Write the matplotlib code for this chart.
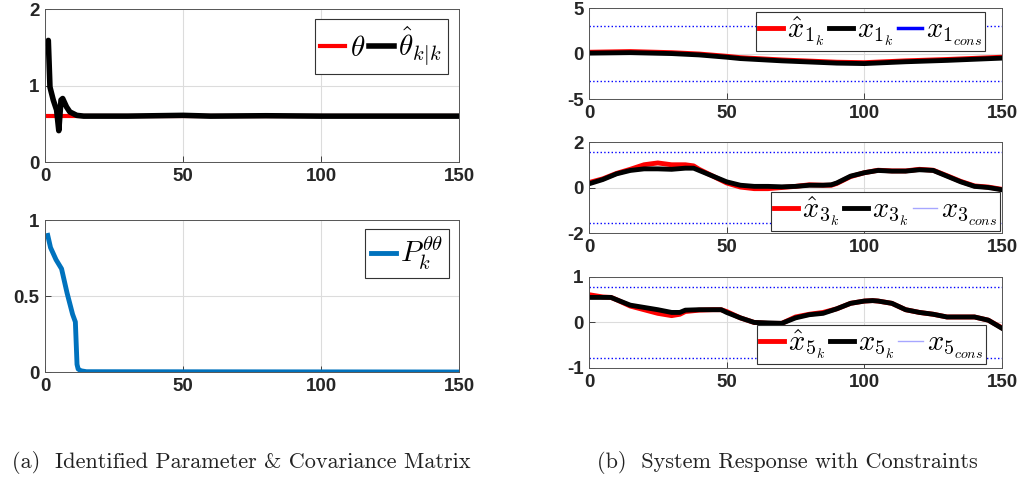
"""Identified parameter, covariance and constrained system response (two-panel figure)."""

import matplotlib.pyplot as plt

plt.rcParams["mathtext.fontset"] = "cm"
plt.rcParams["font.family"] = ["Liberation Sans", "DejaVu Sans"]

# --- data ------------------------------------------------------------------
theta_k = [1, 150]
theta = [0.6, 0.6]

theta_hat_k = [1, 1.2, 1.8, 3, 4.2, 5, 5.8, 6.4, 7.8, 9, 11.5, 14, 30, 50, 60, 80, 100, 120, 150]
theta_hat = [1.55, 1.59, 0.98, 0.81, 0.68, 0.41, 0.81, 0.83, 0.72, 0.655, 0.61, 0.6,
             0.6, 0.61, 0.6, 0.605, 0.6, 0.6, 0.6]

p_k = [1, 2, 3, 4, 5, 6, 7, 8, 9, 10, 11, 11.6, 12, 13, 15, 150]
p_tt = [0.9, 0.82, 0.78, 0.74, 0.71, 0.68, 0.6, 0.52, 0.45, 0.38, 0.33, 0.05, 0.02, 0.008, 0.002, 0.0]

x1_k = [1, 15, 30, 40, 50, 55, 70, 90, 100, 115, 130, 150]
x1 = [0.05, 0.1, 0.0, -0.15, -0.4, -0.55, -0.8, -1.05, -1.1, -0.9, -0.75, -0.5]
x1_hat = [0.15, 0.22, 0.1, -0.05, -0.3, -0.45, -0.7, -0.95, -1.0, -0.8, -0.65, -0.4]
x1_cons = 3.0

x3_k = [1, 5, 10, 15, 20, 25, 30, 35, 38, 40, 45, 50, 55, 60, 65, 70, 75, 80, 85, 88,
        90, 95, 100, 105, 110, 115, 120, 125, 130, 135, 140, 145, 150]
x3 = [0.2, 0.35, 0.6, 0.75, 0.82, 0.82, 0.8, 0.85, 0.85, 0.75, 0.5, 0.25, 0.1, 0.05,
      0.05, 0.03, 0.05, 0.1, 0.1, 0.12, 0.2, 0.5, 0.65, 0.75, 0.72, 0.72, 0.78, 0.75,
      0.5, 0.25, 0.05, 0.0, -0.1]
x3_hat = [0.25, 0.38, 0.62, 0.8, 1.0, 1.08, 1.0, 1.0, 0.95, 0.8, 0.5, 0.2, 0.02, -0.05,
          -0.05, 0.0, 0.05, 0.12, 0.1, 0.1, 0.18, 0.48, 0.65, 0.76, 0.73, 0.73, 0.8, 0.76,
          0.52, 0.27, 0.07, 0.02, -0.08]
x3_cons = 1.57

x5_k = [1, 5, 8, 10, 15, 20, 25, 30, 33, 35, 40, 45, 48, 50, 55, 60, 65, 70, 75, 80,
        85, 90, 95, 100, 103, 105, 110, 115, 120, 125, 130, 135, 140, 145, 150]
x5 = [0.55, 0.55, 0.55, 0.5, 0.38, 0.33, 0.28, 0.22, 0.22, 0.27, 0.28, 0.28, 0.28, 0.22,
      0.1, 0.0, -0.01, -0.02, 0.1, 0.17, 0.2, 0.3, 0.42, 0.47, 0.48, 0.47, 0.42, 0.28,
      0.22, 0.18, 0.12, 0.12, 0.12, 0.05, -0.13]
x5_hat = [0.6, 0.56, 0.55, 0.5, 0.36, 0.28, 0.2, 0.15, 0.18, 0.24, 0.27, 0.28, 0.28, 0.24,
          0.1, 0.0, -0.02, -0.02, 0.12, 0.18, 0.22, 0.3, 0.42, 0.47, 0.48, 0.47, 0.42, 0.28,
          0.22, 0.18, 0.12, 0.12, 0.12, 0.05, -0.12]
x5_cons = 0.78

x_ticks = [0, 50, 100, 150]

TXT = "#262626"
BLUE_P = "#0072BD"


def style(ax, yticks, ylabels):
    ax.set_xlim(0, 150)
    ax.set_ylim(yticks[0], yticks[-1])
    ax.set_xticks(x_ticks)
    ax.set_yticks(yticks)
    ax.set_yticklabels(ylabels)
    ax.grid(True, color="#dcdcdc", linewidth=0.8)
    ax.set_axisbelow(True)
    ax.tick_params(direction="in", length=4, colors=TXT, labelsize=13.5, width=0.6, pad=4)
    for lab in ax.get_xticklabels() + ax.get_yticklabels():
        lab.set_fontweight("bold")
    for sp in ax.spines.values():
        sp.set_color("#555555")
        sp.set_linewidth(0.7)


def legend(ax, loc, anchor, size, ncol=3, pad=0.2):
    leg = ax.legend(loc=loc, bbox_to_anchor=anchor, ncol=ncol, fontsize=size,
                    handlelength=0.85, handletextpad=0.15, columnspacing=0.15,
                    borderpad=pad, borderaxespad=0.0, fancybox=False, framealpha=1)
    leg.get_frame().set_edgecolor("#333333")
    leg.get_frame().set_linewidth(0.8)
    return leg


fig = plt.figure(figsize=(10.25, 4.88), dpi=100)

# (a) left column
ax = fig.add_axes([0.0439, 0.668, 0.404, 0.3135])
ax.plot(theta_k, theta, color="red", linewidth=3, label=r"$\theta$")
ax.plot(theta_hat_k, theta_hat, color="black", linewidth=4, label=r"$\hat{\theta}_{k|k}$")
style(ax, [0, 1, 2], ["0", "1", "2"])
legend(ax, "upper right", (0.973, 0.935), 21, ncol=2)

ax = fig.add_axes([0.0439, 0.2377, 0.404, 0.311])
ax.plot(p_k, p_tt, color=BLUE_P, linewidth=3.5, label=r"$P_k^{\theta\theta}$")
style(ax, [0, 0.5, 1], ["0", "0.5", "1"])
legend(ax, "upper right", (0.976, 0.941), 21, ncol=1)

# (b) right column
right = [
    (0.797, x1_k, x1_hat, x1, x1_cons, "1", [-5, 0, 5], "upper right", (0.959, 0.956), True),
    (0.5225, x3_k, x3_hat, x3, x3_cons, "3", [-2, 0, 2], "lower right", (0.995, 0.02), False),
    (0.246, x5_k, x5_hat, x5, x5_cons, "5", [-1, 0, 1], "lower right", (0.961, 0.044), False),
]
for bottom, k, xh, xt, cons, idx, yt, loc, anchor, solid in right:
    ax = fig.add_axes([0.5746, bottom, 0.403, 0.1865])
    ax.plot(k, xh, color="red", linewidth=3.5, label=r"$\hat{x}_{%s_k}$" % idx)
    ax.plot(k, xt, color="black", linewidth=3.5, label=r"$x_{%s_k}$" % idx)
    ax.plot([0, 150], [cons, cons], color="blue", linestyle=":", linewidth=1.0,
            label=r"$x_{%s_{cons}}$" % idx)
    ax.plot([0, 150], [-cons, -cons], color="blue", linestyle=":", linewidth=1.0)
    style(ax, yt, [str(v) for v in yt])
    leg = legend(ax, loc, anchor, 20.5, pad=0.1)
    if solid:
        leg.get_lines()[2].set_linestyle("-")
        leg.get_lines()[2].set_linewidth(2.5)
    else:
        leg.get_lines()[2].set_linestyle("-")
        leg.get_lines()[2].set_alpha(0.35)

fig.text(0.012, 0.053, "(a)  Identified Parameter & Covariance Matrix",
         fontsize=16, color="#222222", family="cmr10", va="center")
fig.text(0.582, 0.053, "(b)  System Response with Constraints",
         fontsize=16, color="#222222", family="cmr10", va="center")

fig.savefig("out.png", dpi=100)
